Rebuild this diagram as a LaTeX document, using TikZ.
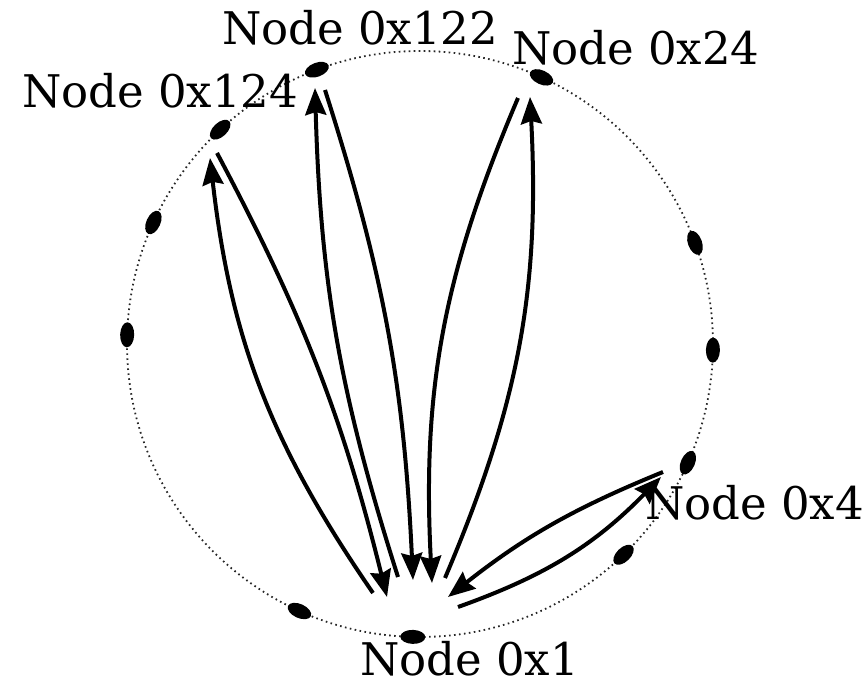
\documentclass[tikz,border=0pt]{standalone}
\usepackage{fontspec}
\setmainfont{DejaVu Serif}
\usetikzlibrary{arrows.meta,shapes.geometric}
\begin{document}
\begin{tikzpicture}[x=1pt,y=1pt,
  ring/.style={draw=black!85, line width=1.8pt, dash pattern=on 1.6pt off 3.4pt},
  peer/.style={ellipse, fill=black, inner sep=0pt, minimum width=25pt, minimum height=14pt},
  finger/.style={line width=4pt, -{Stealth[length=27pt,width=21pt,inset=3pt]}},
  lbl/.style={font=\fontsize{45}{54}\selectfont, inner sep=0pt, anchor=base west}]
\useasboundingbox (0,0) rectangle (865,684);
\coordinate (c) at (420,340);
% identifier ring
\draw[ring] (c) circle[radius=293pt];
% ring members
\foreach \a/\n in {-91.4/n1, -114.3/m1, 178.2/m2, 155.5/m3, 133/n124, 110.6/n122,
                   65.5/n24, 20.2/m4, -1.2/m5, -23.9/n4, -46/m6}
  \node[peer, rotate=\a+90] (\n) at ([shift={(\a:293)}]c) {};
% labels
\node[lbl] (t122) at (222,639) {Node 0x122};
\node[lbl] (t124) at (22,576) {Node 0x124};
\node[lbl] (t24) at (512,619) {Node 0x24};
\node[lbl] (t4) at (645,164) {Node 0x4};
\node[lbl] (t1) at (360,8) {Node 0x1};
% finger link end points
\coordinate (a1) at (373,91);  \coordinate (a2) at (210,526);
\coordinate (b1) at (217,531); \coordinate (b2) at (387,87);
\coordinate (c1) at (398,107); \coordinate (c2) at (315,596);
\coordinate (d1) at (325,594); \coordinate (d2) at (413,104);
\coordinate (e1) at (518,586); \coordinate (e2) at (432,101);
\coordinate (f1) at (445,106); \coordinate (f2) at (530,587);
\coordinate (g1) at (458,77);  \coordinate (g2) at (661,207);
\coordinate (h1) at (663,212); \coordinate (h2) at (448,87);
% lookups and replies
\draw[finger] (a1) to[bend left=14] (a2);
\draw[finger] (b1) to[bend left=7] (b2);
\draw[finger] (c1) to[bend left=8] (c2);
\draw[finger] (d1) to[bend left=7.5] (d2);
\draw[finger] (e1) to[bend right=13] (e2);
\draw[finger] (f1) to[bend right=13] (f2);
\draw[finger] (h1) to[bend right=8] (h2);
\draw[finger] (g1) to[bend right=13] (g2);
\end{tikzpicture}
\end{document}
